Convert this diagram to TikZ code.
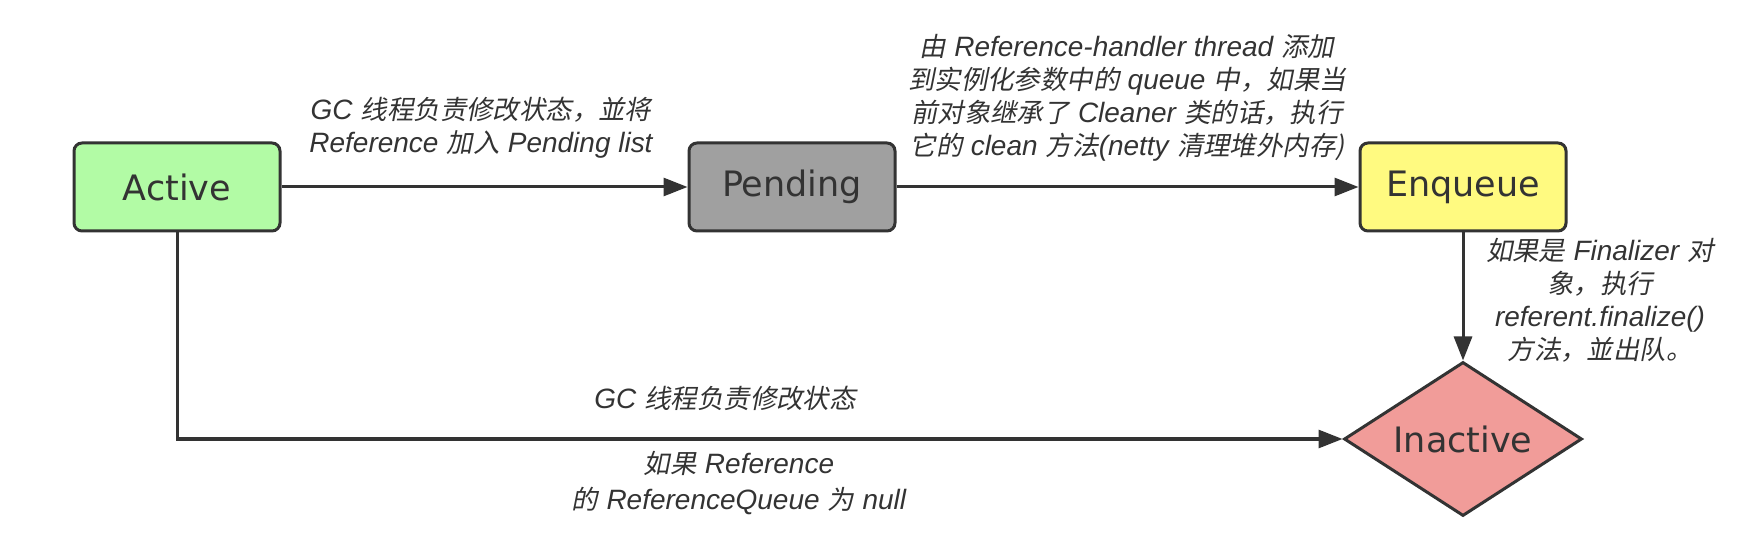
\documentclass[tikz,border=0pt]{standalone}
\usepackage{fontspec}
\setmainfont{DejaVu Sans}
\newfontfamily\cjk[FakeSlant=0.2,WordSpace=1.4]{Noto Sans CJK SC}
\newfontfamily\latfont[Scale=1.06]{Liberation Sans}
\newcommand{\en}[1]{{\latfont\itshape #1}}
\usetikzlibrary{shapes.geometric,arrows.meta}
\definecolor{ln}{RGB}{51,51,51}
\definecolor{cActive}{RGB}{178,251,165}
\definecolor{cPend}{RGB}{160,160,160}
\definecolor{cEnq}{RGB}{255,250,128}
\definecolor{cInact}{RGB}{241,156,153}
\begin{document}
\begin{tikzpicture}[x=0.5pt,y=-0.5pt,
  state/.style={draw=ln, line width=1.5pt, rounded corners=4pt, minimum width=103pt, minimum height=44pt, inner sep=0pt, font=\fontsize{17.5}{20}\selectfont, text=ln},
  lbl/.style={font=\cjk\fontsize{13.2}{16.5}\selectfont, text=ln, align=center, inner sep=0pt},
  conn/.style={draw=ln, line width=1.5pt, -{Triangle[length=12pt,width=9pt]}}]
\path[use as bounding box] (0,0) rectangle (1748,560);
\node[state, fill=cActive] (active) at (177,187) {Active};
\node[state, fill=cPend] (pending) at (792,187) {Pending};
\node[state, fill=cEnq] (enqueue) at (1463,187) {Enqueue};
\node[diamond, draw=ln, line width=1.5pt, fill=cInact, aspect=1.54, minimum width=119pt, minimum height=77pt, inner sep=0pt, font=\fontsize{17.5}{20}\selectfont, text=ln] (inactive) at (1463,439) {Inactive};
\draw[conn] (active) -- (pending);
\draw[conn] (pending) -- (enqueue);
\draw[conn] (enqueue) -- (inactive);
\draw[conn] (active.south) |- (inactive.west);
\node[lbl] (l1) at (481,128) {\en{GC} 线程负责修改状态，並将\\\en{Reference} 加入 \en{Pending list}};
\node[lbl] (l2) at (1127,98) {由 \en{Reference-handler thread} 添加\\到实例化参数中的 \en{queue} 中，如果当\\前对象继承了 \en{Cleaner} 类的话，执行\\它的 \en{clean} 方法\en{(netty} 清理堆外内存)};
\node[lbl] (l3) at (1600,300) {如果是 \en{Finalizer} 对\\象，执行\\\en{referent.finalize()}\\方法，並出队。};
\node[lbl] (l4) at (725,398) {\en{GC} 线程负责修改状态};
\node[lbl, font=\cjk\fontsize{13.2}{18}\selectfont] (l5) at (739,483) {如果 \en{Reference}\\的 \en{ReferenceQueue} 为 \en{null}};
\end{tikzpicture}
\end{document}
